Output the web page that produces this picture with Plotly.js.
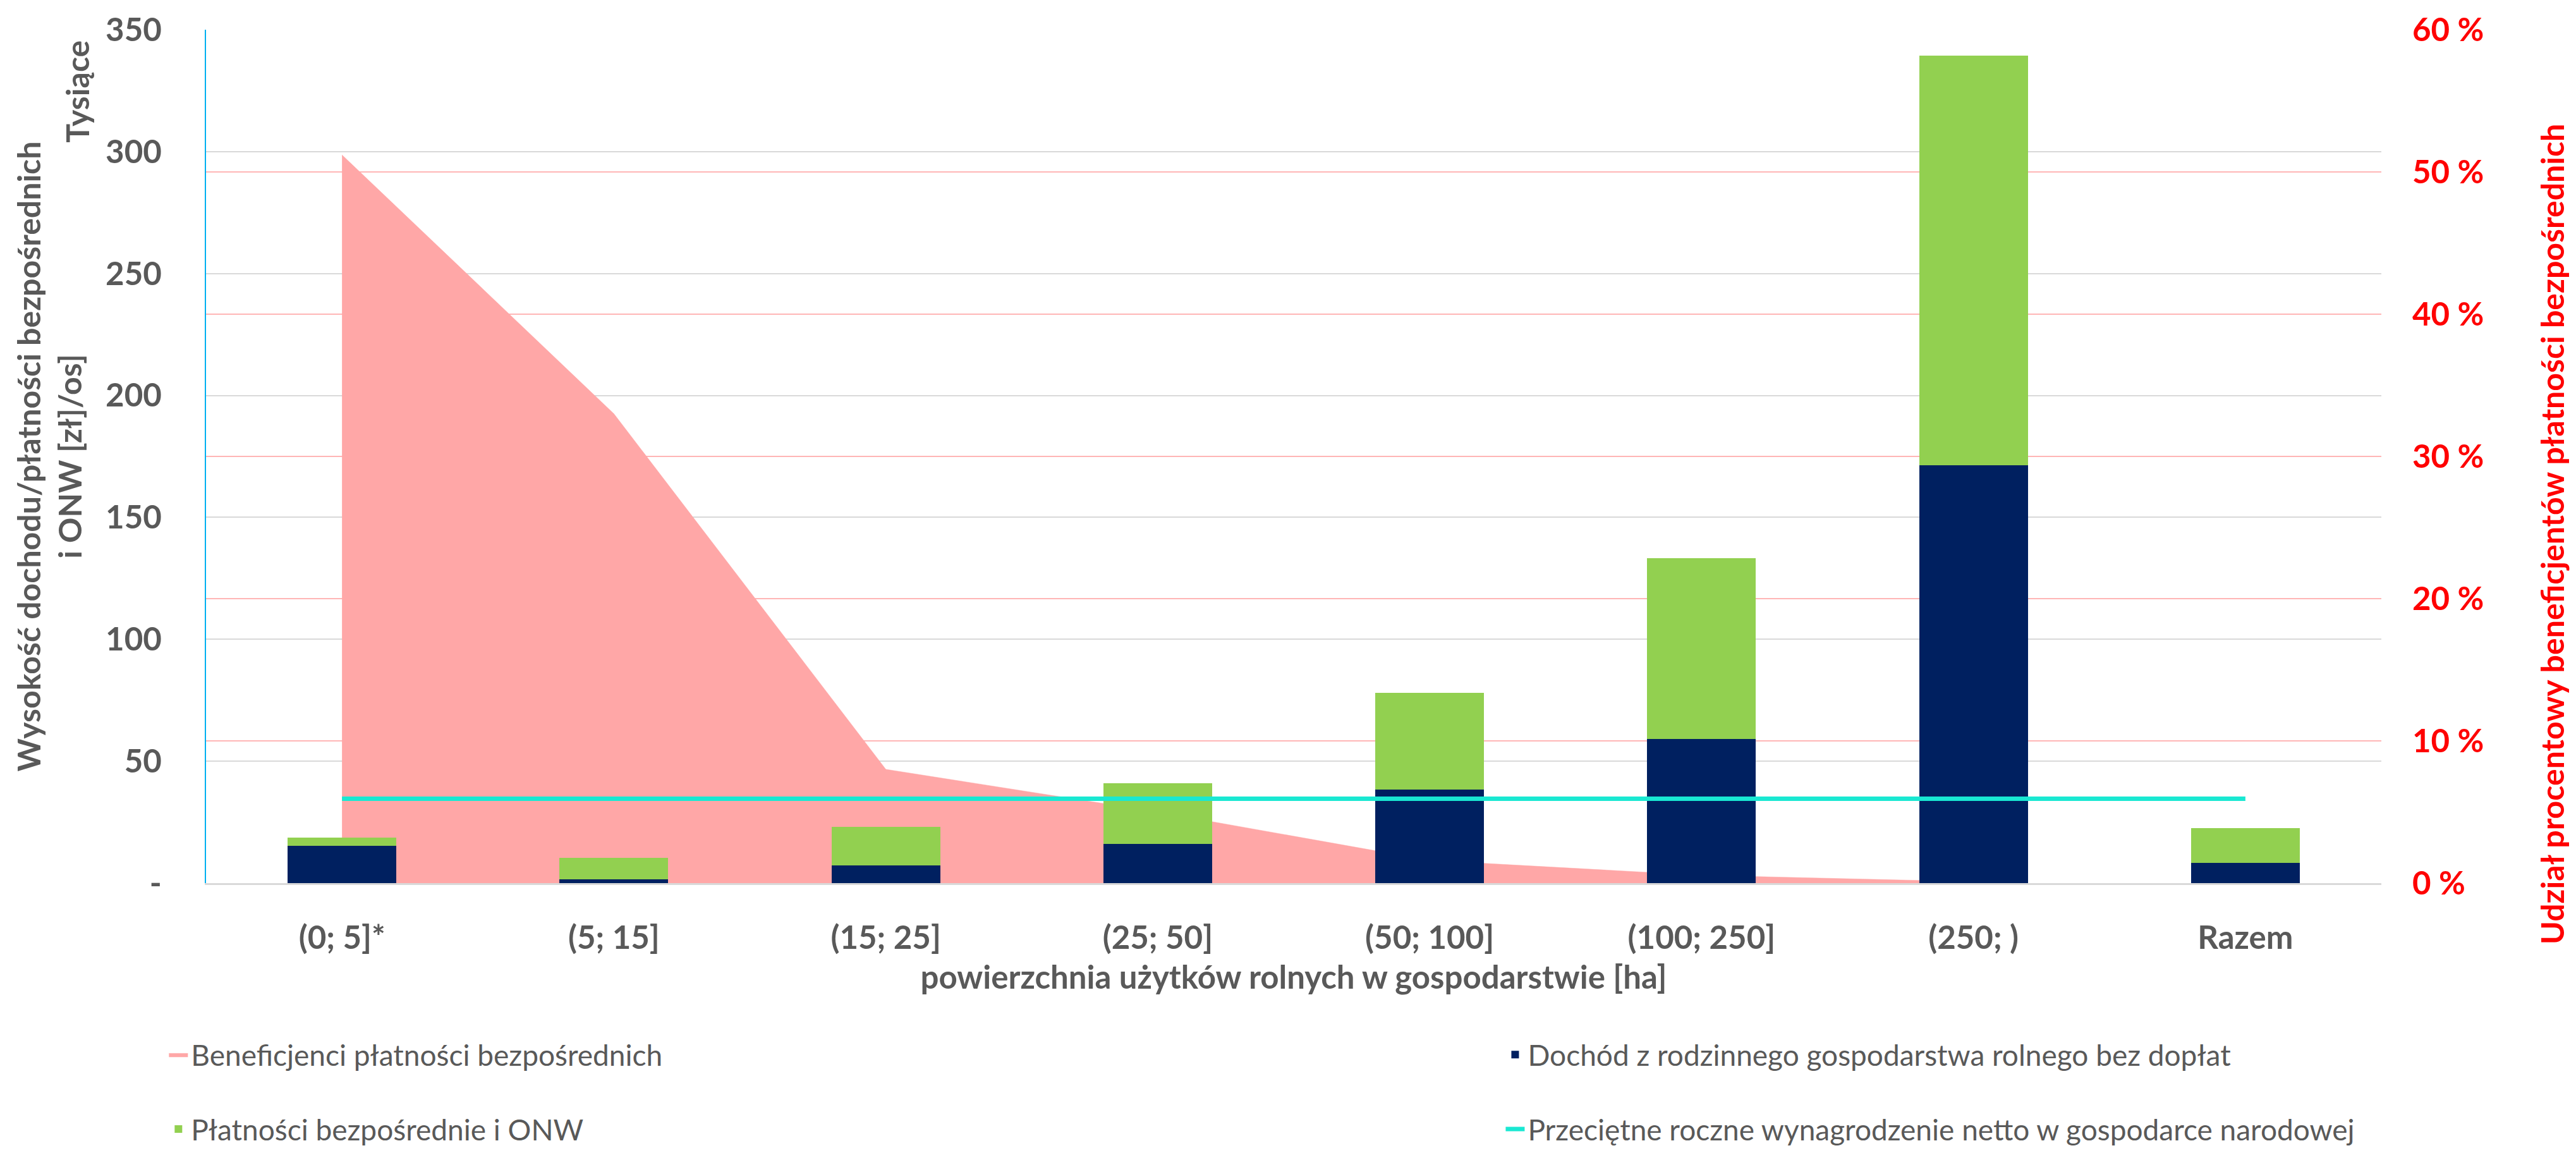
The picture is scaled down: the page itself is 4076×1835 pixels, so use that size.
<!DOCTYPE html>
<html>
<head>
<meta charset="utf-8">
<script src="https://cdn.plot.ly/plotly-3.0.1.min.js"></script>
<style>
  html, body { margin: 0; padding: 0; background: #ffffff; }
  #chart { width: 4076px; height: 1835px; }
</style>
</head>
<body>
<div id="chart"></div>
<script>
// ---- Data ----
const categories = ['(0; 5]*', '(5; 15]', '(15; 25]', '(25; 50]', '(50; 100]', '(100; 250]', '(250; )', 'Razem'];
// share of direct-payment beneficiaries [%] (right axis)
const beneficiariesPct = [51.2, 33.0, 8.0, 5.0, 1.6, 0.55, 0.1, null];
// income from family farm without subsidies [thousand zł/person]
const incomeWithoutSubsidies = [15.4, 1.5, 7.2, 16.0, 38.5, 59.2, 171.3, 8.2];
// direct payments and ONW [thousand zł/person]
const directPaymentsONW = [3.3, 8.8, 15.9, 25.0, 39.5, 74.1, 168.2, 14.4];
// average annual net wage in the national economy [thousand zł]
const averageNetWage = [34.6, 34.6, 34.6, 34.6, 34.6, 34.6, 34.6, 34.6];

const leftTickVals = [0, 50, 100, 150, 200, 250, 300, 350];
const leftTickText = ['-', '50', '100', '150', '200', '250', '300', '350'];
const rightTickVals = [0, 10, 20, 30, 40, 50, 60];
const rightTickText = ['0 %', '10 %', '20 %', '30 %', '40 %', '50 %', '60 %'];

const seriesNames = {
  beneficiaries: 'Beneficjenci płatności bezpośrednich',
  income: 'Dochód z rodzinnego gospodarstwa rolnego bez dopłat',
  payments: 'Płatności bezpośrednie i ONW',
  wage: 'Przeciętne roczne wynagrodzenie netto w gospodarce narodowej'
};

const FONT = 'Lato, "Open Sans", sans-serif';
const GRAY = '#595959';

const traces = [
  {
    type: 'scatter', mode: 'lines', name: seriesNames.beneficiaries,
    x: categories, y: beneficiariesPct,
    xaxis: 'x', yaxis: 'y',
    fill: 'tozeroy', fillcolor: '#FFA7A7',
    line: { color: '#FFA7A7', width: 0.5 },
    legend: 'legend', legendgroup: 'g1'
  },
  {
    type: 'bar', name: seriesNames.income,
    x: categories, y: incomeWithoutSubsidies,
    xaxis: 'x', yaxis: 'y2',
    marker: { color: '#002060' },
    legend: 'legend2', legendgroup: 'g2'
  },
  {
    type: 'bar', name: seriesNames.payments,
    x: categories, y: directPaymentsONW,
    xaxis: 'x', yaxis: 'y2',
    marker: { color: '#92D050' },
    legend: 'legend', legendgroup: 'g3'
  },
  {
    type: 'scatter', mode: 'lines', name: seriesNames.wage,
    x: categories, y: averageNetWage,
    xaxis: 'x', yaxis: 'y2',
    line: { color: '#19E8D2', width: 7 },
    legend: 'legend2', legendgroup: 'g4'
  }
];

const layout = {
  width: 4076, height: 1835,
  paper_bgcolor: '#ffffff', plot_bgcolor: '#ffffff',
  margin: { l: 326, r: 308, t: 47, b: 423 },
  font: { family: FONT, color: GRAY, size: 50 },
  barmode: 'stack',
  bargap: 0.6,
  showlegend: true,
  xaxis: {
    type: 'category',
    range: [-0.5, 7.5],
    showline: true, linecolor: '#D9D9D9', linewidth: 3,
    showgrid: false, zeroline: false,
    ticks: '',
    ticklabelstandoff: 40,
    tickfont: { family: FONT, size: 51, color: GRAY, weight: 700 },
    title: {
      text: 'powierzchnia użytków rolnych w gospodarstwie [ha]',
      font: { family: FONT, size: 51, color: GRAY, weight: 700 },
      standoff: 18
    }
  },
  yaxis: {
    side: 'right',
    range: [0, 60],
    tickvals: rightTickVals,
    ticktext: rightTickText,
    showgrid: true, gridcolor: '#FFB6B6', gridwidth: 2,
    zeroline: false, showline: false,
    ticks: '',
    ticklabelstandoff: 48,
    tickfont: { family: FONT, size: 51, color: '#FF0000', weight: 700 }
  },
  yaxis2: {
    overlaying: 'y',
    side: 'left',
    range: [0, 350],
    tickvals: leftTickVals,
    ticktext: leftTickText,
    showgrid: true, gridcolor: '#D9D9D9', gridwidth: 2,
    zeroline: false,
    showline: true, linecolor: '#00B0F0', linewidth: 2,
    ticks: '',
    ticklabelstandoff: 58,
    tickfont: { family: FONT, size: 51, color: GRAY, weight: 700 },
    title: {
      text: 'Wysokość dochodu/płatności bezpośrednich<br>i ONW [zł]/os]',
      font: { family: FONT, size: 50, color: GRAY, weight: 700 },
      standoff: 22
    }
  },
  legend: {
    orientation: 'v',
    x: -0.0185, xanchor: 'left',
    y: -0.174, yanchor: 'top',
    traceorder: 'grouped',
    tracegroupgap: 55,
    bgcolor: 'rgba(0,0,0,0)',
    font: { family: FONT, size: 46, color: GRAY }
  },
  legend2: {
    orientation: 'v',
    x: 0.596, xanchor: 'left',
    y: -0.174, yanchor: 'top',
    traceorder: 'grouped',
    tracegroupgap: 55,
    bgcolor: 'rgba(0,0,0,0)',
    font: { family: FONT, size: 46, color: GRAY }
  },
  annotations: [
    {
      text: 'Tysiące', xref: 'paper', yref: 'paper',
      x: -0.0593, y: 0.9275, xanchor: 'center', yanchor: 'middle',
      textangle: -90, showarrow: false,
      font: { family: FONT, size: 50, color: GRAY, weight: 700 }
    },
    {
      text: 'Udział procentowy beneficjentów płatności bezpośrednich',
      xref: 'paper', yref: 'paper',
      x: 1.0785, y: 0.409, xanchor: 'center', yanchor: 'middle',
      textangle: -90, showarrow: false,
      font: { family: FONT, size: 50, color: '#FF0000', weight: 700 }
    }
  ]
};

Plotly.newPlot('chart', traces, layout, { displayModeBar: false, staticPlot: true });
</script>
</body>
</html>
